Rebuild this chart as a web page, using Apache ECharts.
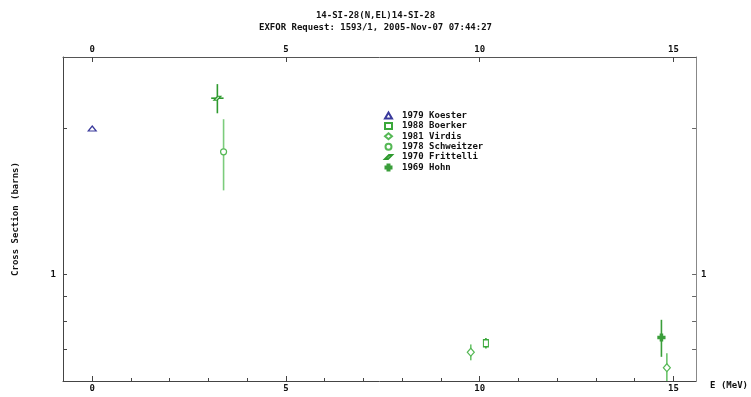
<!DOCTYPE html>
<html><head><meta charset="utf-8">
<script src="https://cdn.jsdelivr.net/npm/echarts@6/dist/echarts.min.js"></script>
<style>html,body{margin:0;padding:0;background:#fff}#c{width:751px;height:397px}</style>
</head><body><div id="c"></div>
<script>
// ---- text ----
const titleText = "14-SI-28(N,EL)14-SI-28";
const subtitleText = "EXFOR Request: 1593/1, 2005-Nov-07 07:44:27";
const xAxisName = "E (MeV)";
const yAxisName = "Cross Section (barns)";
// ---- ticks ----
const xMajorTicks = [0, 5, 10, 15];
const xMinorTicks = [0, 1, 2, 3, 4, 5, 6, 7, 8, 9, 10, 11, 12, 13, 14, 15];
const yLabelTicks = [1];
const yAllTicks = [0.7, 0.8, 0.9, 1, 2];
// ---- data (E in MeV, cross section in barns, errors) ----
const koesterE = [0.0],   koesterXS = [2.0],   koesterErr = [0];
const boerkerE = [10.16], boerkerXS = [0.720], boerkerErr = [0.018];
const virdisE = [9.77, 14.83], virdisXS = [0.690, 0.641], virdisErr = [0.026, 0.046];
const schweitzerE = [3.39], schweitzerXS = [1.79], schweitzerErr = [0.30];
const frittelliE = [3.23], frittelliXS = [2.31], frittelliErr = [0.16], frittelliEErr = [0.16];
const hohnE = [14.69], hohnXS = [0.740], hohnErr = [0.065];

const FONT = 'DejaVu Sans Mono';
const txt = {fontFamily: FONT, fontWeight: 'bold', fontSize: 9, color: '#111'};
const X_MIN = -0.754, X_MAX = 15.584, Y_MIN = 0.6017, Y_MAX = 2.81;

function pts(E, XS) { return E.map((e, i) => [e, XS[i]]); }
function errs(E, XS, dY, dX) {
  return E.map((e, i) => {
    const dx = dX ? dX[i] : 0;
    return [e, XS[i], XS[i] - dY[i], XS[i] + dY[i], e - dx, e + dx];
  });
}
function errRender(params, api) {
  const x = api.value(0), y = api.value(1), lo = api.value(2), hi = api.value(3), xl = api.value(4), xh = api.value(5);
  const color = api.visual('color');
  const ch = [];
  if (hi > lo) {
    const a = api.coord([x, lo]), b = api.coord([x, hi]);
    ch.push({type: 'line', shape: {x1: a[0], y1: a[1], x2: b[0], y2: b[1]}, style: {stroke: color, lineWidth: 1.6}});
  }
  if (xh > xl) {
    const a = api.coord([xl, y]), b = api.coord([xh, y]);
    ch.push({type: 'line', shape: {x1: a[0], y1: a[1], x2: b[0], y2: b[1]}, style: {stroke: color, lineWidth: 1.6}});
  }
  return {type: 'group', children: ch};
}

const sets = [
  {name: '1979 Koester', E: koesterE, XS: koesterXS, dY: koesterErr, color: '#3a3a9c', bar: '#3a3a9c', symbol: 'triangle', size: [8, 5], fill: '#fff'},
  {name: '1988 Boerker', E: boerkerE, XS: boerkerXS, dY: boerkerErr, color: '#3aa83a', bar: '#3aa83a', symbol: 'rect', size: [5, 7], fill: '#fff'},
  {name: '1981 Virdis', E: virdisE, XS: virdisXS, dY: virdisErr, color: '#55b855', bar: '#6cc46c', symbol: 'diamond', size: [7, 8], fill: '#fff'},
  {name: '1978 Schweitzer', E: schweitzerE, XS: schweitzerXS, dY: schweitzerErr, color: '#55b855', bar: '#7ccc7c', symbol: 'circle', size: 6, fill: '#fff'},
  {name: '1970 Frittelli', E: frittelliE, XS: frittelliXS, dY: frittelliErr, dX: frittelliEErr, color: '#2e9a2e', bar: '#2e9a2e', symbol: 'path://M4,0 L7,0 L3,4 L0,4 Z', size: [7, 4], fill: '#fff'},
  {name: '1969 Hohn', E: hohnE, XS: hohnXS, dY: hohnErr, color: '#3a9e3a', bar: '#3a9e3a', symbol: 'path://M1,0 L2,0 L2,1 L3,1 L3,2 L2,2 L2,3 L1,3 L1,2 L0,2 L0,1 L1,1 Z', size: 7, fill: '#3a9e3a'}
];

const series = [];
sets.forEach(s => {
  series.push({
    type: 'custom', name: s.name + ' err', xAxisIndex: 0, yAxisIndex: 0, clip: true, z: 2,
    itemStyle: {color: s.bar}, renderItem: errRender, silent: true,
    data: errs(s.E, s.XS, s.dY, s.dX)
  });
});
sets.forEach(s => {
  series.push({
    type: 'scatter', name: s.name, xAxisIndex: 0, yAxisIndex: 0, z: 5,
    symbol: s.symbol, symbolSize: s.size,
    itemStyle: {color: s.fill, borderColor: s.color, borderWidth: 1.2, opacity: 1},
    data: pts(s.E, s.XS)
  });
});

const chart = echarts.init(document.getElementById('c'), null, {renderer: 'canvas'});
chart.setOption({
  animation: false,
  backgroundColor: '#fff',
  title: {
    text: titleText, subtext: subtitleText, left: 'center', top: 11, itemGap: 3, padding: 0,
    textStyle: Object.assign({}, txt), subtextStyle: Object.assign({}, txt)
  },
  legend: {
    data: sets.map(s => s.name), orient: 'vertical', left: 384, top: 111, padding: 0,
    itemWidth: 7, itemHeight: 6, itemGap: 1.4,
    textStyle: Object.assign({padding: [0, 0, 0, 5]}, txt)
  },
  grid: {left: 63, right: 51, top: 57, bottom: 16, containLabel: false},
  xAxis: [
    {type: 'value', position: 'bottom', min: X_MIN, max: X_MAX,
     name: xAxisName, nameLocation: 'end', nameGap: 14,
     nameTextStyle: Object.assign({verticalAlign: 'top', padding: [0, 0, 0, 0]}, txt),
     axisLine: {show: true, onZero: false, lineStyle: {color: '#444', width: 1}},
     axisTick: {show: true, inside: true, length: 5, customValues: xMajorTicks, lineStyle: {color: '#444'}},
     axisLabel: Object.assign({show: true, margin: 3, customValues: xMajorTicks}, txt),
     splitLine: {show: false}},
    {type: 'value', position: 'bottom', min: X_MIN, max: X_MAX,
     axisLine: {show: false, onZero: false},
     axisTick: {show: true, inside: true, length: 3, customValues: xMinorTicks, lineStyle: {color: '#444'}},
     axisLabel: {show: false}, splitLine: {show: false}},
    {type: 'value', position: 'top', min: X_MIN, max: X_MAX,
     axisLine: {show: true, onZero: false, lineStyle: {color: '#555', width: 1}},
     axisTick: {show: true, inside: true, length: 5, customValues: xMajorTicks, lineStyle: {color: '#444'}},
     axisLabel: Object.assign({show: true, margin: 3, customValues: xMajorTicks}, txt),
     splitLine: {show: false}}
  ],
  yAxis: [
    {type: 'log', logBase: 10, position: 'left', min: Y_MIN, max: Y_MAX,
     name: yAxisName, nameLocation: 'middle', nameGap: 43, nameRotate: 90,
     nameTextStyle: Object.assign({}, txt),
     axisLine: {show: true, onZero: false, lineStyle: {color: '#444', width: 1}},
     axisTick: {show: true, inside: true, length: 4, customValues: yAllTicks, lineStyle: {color: '#444'}},
     axisLabel: Object.assign({show: true, margin: 7, customValues: yLabelTicks}, txt),
     splitLine: {show: false}},
    {type: 'log', logBase: 10, position: 'right', min: Y_MIN, max: Y_MAX,
     axisLine: {show: true, onZero: false, lineStyle: {color: '#888', width: 1}},
     axisTick: {show: true, inside: true, length: 4, customValues: yAllTicks, lineStyle: {color: '#666'}},
     axisLabel: Object.assign({show: true, margin: 5, customValues: yLabelTicks}, txt),
     splitLine: {show: false}}
  ],
  series: series
});
</script></body></html>
